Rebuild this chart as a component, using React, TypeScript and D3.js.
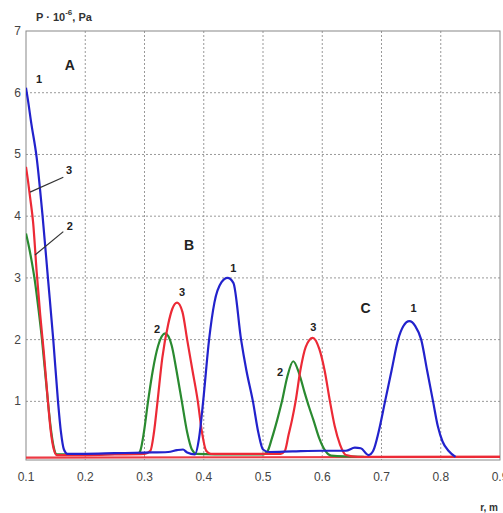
import React from "react";
import * as d3 from "d3";

// Series 1 (blue)
const blueX = [0.100, 0.103, 0.109, 0.118, 0.128, 0.137, 0.146, 0.154, 0.159, 0.164, 0.170,
  0.20, 0.25, 0.30, 0.34, 0.355, 0.365, 0.372, 0.385,
  0.392, 0.399, 0.409, 0.418, 0.430, 0.440, 0.450, 0.463, 0.472, 0.483, 0.492, 0.500, 0.510,
  0.55, 0.60, 0.64, 0.655, 0.665, 0.678, 0.686,
  0.695, 0.706, 0.717, 0.728, 0.737, 0.747, 0.757, 0.767, 0.777, 0.787, 0.795, 0.803, 0.813, 0.825];
const blueY = [6.08, 5.9, 5.5, 4.95, 4.0, 3.0, 2.0, 1.0, 0.5, 0.22, 0.15,
  0.15, 0.16, 0.17, 0.18, 0.21, 0.22, 0.17, 0.14,
  0.4, 1.0, 2.0, 2.6, 2.93, 3.0, 2.92, 2.0, 1.5, 1.0, 0.5, 0.22, 0.18,
  0.19, 0.2, 0.2, 0.25, 0.24, 0.13, 0.2,
  0.5, 1.0, 1.5, 2.0, 2.22, 2.3, 2.22, 2.0, 1.5, 1.0, 0.6, 0.35, 0.2, 0.1];

// Series 2 (green)
const greenX = [0.100, 0.104, 0.109, 0.115, 0.121, 0.127, 0.132, 0.137, 0.142, 0.147, 0.152,
  0.20, 0.25, 0.29,
  0.293, 0.299, 0.306, 0.314, 0.323, 0.335, 0.346, 0.354, 0.363, 0.372, 0.380, 0.388,
  0.45, 0.50,
  0.507, 0.515, 0.524, 0.532, 0.541, 0.551, 0.561, 0.570, 0.578, 0.585, 0.595, 0.605, 0.615, 0.67];
const greenY = [3.72, 3.55, 3.3, 2.95, 2.5, 2.0, 1.5, 1.0, 0.55, 0.25, 0.14,
  0.14, 0.15, 0.16,
  0.2, 0.5, 1.0, 1.5, 1.9, 2.1, 1.9, 1.5, 1.0, 0.5, 0.22, 0.15,
  0.14, 0.14,
  0.18, 0.4, 0.7, 1.0, 1.4, 1.65, 1.45, 1.15, 0.9, 0.7, 0.4, 0.2, 0.12, 0.1];

// Series 3 (red)
const redX = [0.100, 0.103, 0.107, 0.112, 0.118, 0.124, 0.130, 0.137, 0.142, 0.147, 0.152,
  0.20, 0.25, 0.30,
  0.310, 0.316, 0.322, 0.330, 0.340, 0.347, 0.355, 0.364, 0.372, 0.381, 0.390, 0.397, 0.404, 0.412,
  0.47, 0.53,
  0.537, 0.543, 0.549, 0.555, 0.563, 0.572, 0.584, 0.595, 0.604, 0.613, 0.621, 0.630, 0.640, 0.66, 0.90];
const redY = [4.8, 4.6, 4.3, 3.9, 3.1, 2.4, 1.8, 1.0, 0.5, 0.22, 0.13,
  0.13, 0.14, 0.15,
  0.2, 0.5, 1.0, 1.7, 2.25, 2.5, 2.6, 2.45, 2.0, 1.5, 1.0, 0.5, 0.2, 0.15,
  0.15, 0.15,
  0.2, 0.45, 0.7, 1.0, 1.5, 1.88, 2.03, 1.85, 1.5, 1.0, 0.6, 0.3, 0.13, 0.1, 0.1];

// Red flat baseline
const redBaseX = [0.1, 0.9];
const redBaseY = [0.09, 0.1];

const xTicks = [0.1, 0.2, 0.3, 0.4, 0.5, 0.6, 0.7, 0.8, 0.9];
const yTicks = [1, 2, 3, 4, 5, 6, 7];

// annotations (data coords)
const annText = ["A", "1", "3", "2", "B", "1", "3", "2", "C", "1", "2", "3"];
const annX = [0.174, 0.122, 0.1726, 0.174, 0.375, 0.45, 0.3635, 0.321, 0.673, 0.754, 0.529, 0.585];
const annY = [6.45, 6.22, 4.75, 3.84, 3.53, 3.16, 2.77, 2.18, 2.52, 2.52, 1.47, 2.2];
const annBig = [true, false, false, false, true, false, false, false, true, false, false, false];

const leaderFromX = [0.1068, 0.1152];
const leaderFromY = [4.39, 3.37];
const leaderToX = [0.163, 0.163];
const leaderToY = [4.63, 3.75];
const leaderColor = ["#333", "#333"];

export default function App() {
  const W = 503, H = 513;
  const left = 26, right = 500, top = 31, bottom = 460;
  const x = d3.scaleLinear().domain([0.1, 0.9]).range([left, right]);
  const y = d3.scaleLinear().domain([0.05, 7]).range([bottom, top]);

  const mk = (xs: number[], ys: number[]) =>
    d3.line<number>().x((_, i) => x(xs[i])).y((_, i) => y(ys[i])).curve(d3.curveMonotoneX)(xs) || "";

  const series = [
    { xs: redBaseX, ys: redBaseY, c: "#ec3a44" },
    { xs: greenX, ys: greenY, c: "#2a8a30" },
    { xs: redX, ys: redY, c: "#ec2a36" },
    { xs: blueX, ys: blueY, c: "#2222cc" },
  ];

  const font = "'Liberation Sans', Arial, sans-serif";

  return (
    <svg width={W} height={H} style={{ position: "absolute", left: 0, top: 0, background: "#fff" }}>
      <defs>
        <clipPath id="plotclip">
          <rect x={left} y={top} width={right - left} height={bottom - top} />
        </clipPath>
      </defs>
      {/* grid */}
      {xTicks.slice(1, -1).map((t) => (
        <line key={"gx" + t} x1={x(t)} x2={x(t)} y1={top} y2={bottom} stroke="#999" strokeWidth={1} strokeDasharray="2,2" />
      ))}
      {yTicks.slice(0, -1).map((t) => (
        <line key={"gy" + t} x1={left} x2={right} y1={y(t)} y2={y(t)} stroke="#999" strokeWidth={1} strokeDasharray="2,2" />
      ))}
      {/* frame */}
      <rect x={left} y={top} width={right - left} height={bottom - top} fill="none" stroke="#888" strokeWidth={1} />
      {/* curves */}
      <g clipPath="url(#plotclip)">
        {series.map((s, i) => (
          <path key={i} d={mk(s.xs, s.ys)} fill="none" stroke={s.c} strokeWidth={2.2} strokeLinejoin="round" />
        ))}
      </g>
      {/* leaders */}
      {leaderFromX.map((v, i) => (
        <line key={"ld" + i} x1={x(v)} y1={y(leaderFromY[i])} x2={x(leaderToX[i])} y2={y(leaderToY[i])} stroke={leaderColor[i]} strokeWidth={1.2} />
      ))}
      {/* annotations */}
      {annText.map((t, i) => (
        <text key={"a" + i} x={x(annX[i])} y={y(annY[i])} textAnchor="middle" dominantBaseline="central"
          fontFamily={font} fontWeight="bold" fontSize={annBig[i] ? 14 : 11} fill="#222">{t}</text>
      ))}
      {/* y tick labels */}
      {yTicks.map((t) => (
        <text key={"yt" + t} x={left - 5} y={y(t)} textAnchor="end" dominantBaseline="central"
          fontFamily={font} fontSize={12} fill="#444">{t}</text>
      ))}
      {/* x tick labels */}
      {xTicks.map((t) => (
        <text key={"xt" + t} x={x(t)} y={477} textAnchor="middle" dominantBaseline="central"
          fontFamily={font} fontSize={12} fill="#444">{t.toFixed(1)}</text>
      ))}
      {/* axis titles */}
      <text x={36} y={17} dominantBaseline="central" fontFamily={font} fontWeight="bold" fontSize={11} fill="#333">
        P · 10<tspan dy={-5} fontSize={8}>-6</tspan><tspan dy={5}>, Pa</tspan>
      </text>
      <text x={498} y={507} textAnchor="end" dominantBaseline="central" fontFamily={font} fontWeight="bold" fontSize={10} fill="#333">r, m</text>
    </svg>
  );
}
